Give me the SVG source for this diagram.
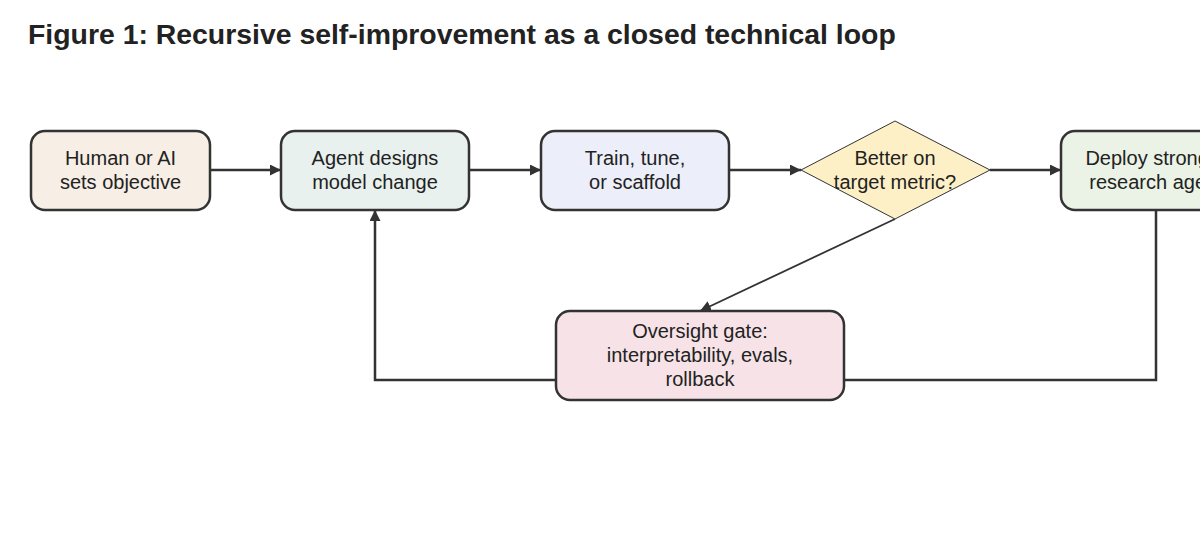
<svg xmlns="http://www.w3.org/2000/svg" width="1200" height="540" viewBox="0 0 1200 540">
<defs>
<style>
.box{stroke:#333;stroke-width:2.5}
.lbl{font-family:"Liberation Sans",Arial,sans-serif;font-size:20px;fill:#222;text-anchor:middle}
.title{font-family:"Liberation Sans",Arial,sans-serif;font-size:28.4px;font-weight:bold;fill:#222}
.edge{fill:none;stroke:#333;stroke-width:2.5}
.thin{fill:none;stroke:#333;stroke-width:1.8}
</style>
<marker id="arr" viewBox="0 0 10 10" refX="10" refY="5" markerWidth="11" markerHeight="11" markerUnits="userSpaceOnUse" orient="auto">
<path d="M0,0 L10,5 L0,10 Z" fill="#333"/>
</marker>
</defs>
<rect width="1200" height="540" fill="#fff"/>
<text class="title" x="28" y="44">Figure 1: Recursive self-improvement as a closed technical loop</text>
<g id="connectors">
<path class="edge" d="M210,170 H281" marker-end="url(#arr)"/>
<path class="edge" d="M469,170 H541" marker-end="url(#arr)"/>
<path class="edge" d="M729,170 H801" marker-end="url(#arr)"/>
<path class="edge" d="M990,170 H1061" marker-end="url(#arr)"/>
<path class="thin" d="M895,219 L700,311" marker-end="url(#arr)"/>
<path class="edge" d="M1156,210 V380 H844"/>
<path class="edge" d="M556,380 H375 V210" marker-end="url(#arr)"/>
</g>
<g id="n1">
<rect class="box" x="31" y="131" width="179" height="79" rx="14" fill="#f7eee5"/>
<text class="lbl" x="120.5" y="165">Human or AI</text>
<text class="lbl" x="120.5" y="189">sets objective</text>
</g>
<g id="n2">
<rect class="box" x="281" y="131" width="188" height="79" rx="14" fill="#e8f1ee"/>
<text class="lbl" x="375" y="165">Agent designs</text>
<text class="lbl" x="375" y="189">model change</text>
</g>
<g id="n3">
<rect class="box" x="541" y="131" width="188" height="79" rx="14" fill="#eceef9"/>
<text class="lbl" x="635" y="165">Train, tune,</text>
<text class="lbl" x="635" y="189">or scaffold</text>
</g>
<g id="n4">
<polygon points="895,121 990,170 895,219 801,170" fill="#fdf0c6" stroke="#333" stroke-width="1"/>
<text class="lbl" x="895" y="165">Better on</text>
<text class="lbl" x="895" y="189">target metric?</text>
</g>
<g id="n5">
<rect class="box" x="1061" y="131" width="190" height="79" rx="14" fill="#eaf3e6"/>
<text class="lbl" x="1156" y="165">Deploy stronger</text>
<text class="lbl" x="1156" y="189">research agent</text>
</g>
<g id="n6">
<rect class="box" x="556" y="311" width="288" height="89" rx="14" fill="#f7e3e7"/>
<text class="lbl" x="700" y="338">Oversight gate:</text>
<text class="lbl" x="700" y="362">interpretability, evals,</text>
<text class="lbl" x="700" y="386">rollback</text>
</g>
</svg>
